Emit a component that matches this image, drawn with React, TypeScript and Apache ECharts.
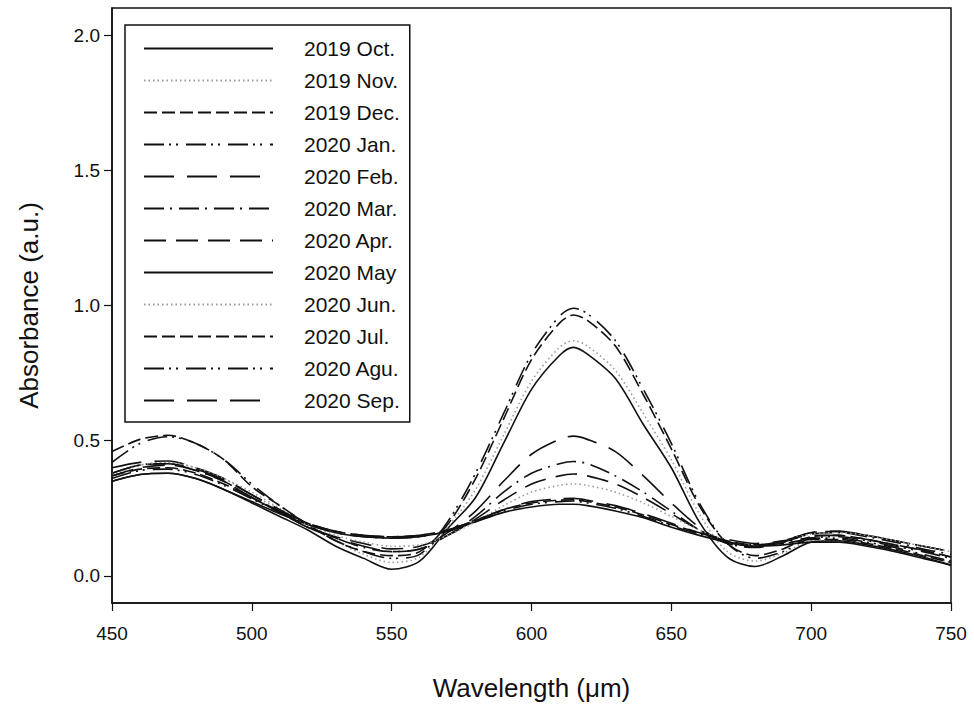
import React, { useEffect, useRef } from "react";
import * as echarts from "echarts";

const wavelengths = [450,460,470,480,490,500,510,520,530,540,550,560,570,580,590,600,610,615,620,630,640,650,660,670,680,690,700,710,720,730,740,750];

const oct2019 = [0.35,0.375,0.38,0.36,0.32,0.27,0.22,0.17,0.11,0.065,0.025,0.055,0.175,0.29,0.49,0.69,0.815,0.845,0.82,0.73,0.56,0.40,0.20,0.07,0.035,0.075,0.125,0.13,0.115,0.095,0.07,0.04];
const nov2019 = [0.37,0.41,0.42,0.40,0.36,0.31,0.25,0.19,0.13,0.08,0.05,0.07,0.18,0.32,0.52,0.72,0.845,0.87,0.85,0.76,0.60,0.43,0.23,0.09,0.055,0.085,0.13,0.135,0.12,0.10,0.075,0.05];
const dec2019 = [0.46,0.505,0.52,0.49,0.43,0.33,0.26,0.19,0.13,0.09,0.075,0.09,0.19,0.36,0.58,0.80,0.935,0.965,0.945,0.85,0.67,0.47,0.26,0.12,0.075,0.10,0.145,0.15,0.135,0.115,0.095,0.07];
const jan2020 = [0.42,0.49,0.515,0.49,0.43,0.34,0.26,0.19,0.13,0.09,0.065,0.08,0.20,0.38,0.60,0.82,0.96,0.99,0.97,0.87,0.69,0.49,0.27,0.12,0.065,0.09,0.14,0.145,0.13,0.11,0.09,0.065];
const feb2020 = [0.40,0.42,0.425,0.40,0.36,0.30,0.24,0.185,0.14,0.11,0.09,0.10,0.16,0.24,0.35,0.45,0.505,0.517,0.505,0.46,0.37,0.27,0.18,0.12,0.11,0.13,0.16,0.165,0.15,0.13,0.11,0.09];
const mar2020 = [0.38,0.41,0.415,0.39,0.35,0.29,0.235,0.18,0.14,0.105,0.09,0.10,0.15,0.22,0.31,0.38,0.415,0.423,0.415,0.37,0.31,0.24,0.17,0.12,0.105,0.125,0.155,0.16,0.145,0.125,0.10,0.08];
const apr2020 = [0.37,0.40,0.41,0.39,0.35,0.29,0.235,0.18,0.145,0.12,0.10,0.11,0.15,0.21,0.28,0.34,0.37,0.377,0.37,0.34,0.29,0.23,0.17,0.125,0.11,0.13,0.16,0.165,0.15,0.13,0.11,0.09];
const may2020 = [0.35,0.375,0.38,0.36,0.32,0.275,0.23,0.19,0.16,0.145,0.14,0.145,0.165,0.20,0.235,0.255,0.265,0.265,0.26,0.24,0.215,0.18,0.15,0.125,0.11,0.115,0.125,0.125,0.11,0.09,0.065,0.04];
const jun2020 = [0.38,0.41,0.42,0.40,0.36,0.30,0.245,0.19,0.15,0.125,0.11,0.115,0.15,0.20,0.26,0.31,0.335,0.34,0.335,0.31,0.27,0.22,0.17,0.13,0.115,0.13,0.155,0.16,0.15,0.13,0.11,0.09];
const jul2020 = [0.37,0.395,0.40,0.38,0.34,0.29,0.24,0.195,0.165,0.15,0.145,0.15,0.17,0.205,0.245,0.27,0.28,0.282,0.275,0.255,0.225,0.19,0.16,0.13,0.115,0.12,0.135,0.135,0.12,0.10,0.075,0.05];
const aug2020 = [0.36,0.39,0.395,0.375,0.335,0.285,0.235,0.19,0.16,0.145,0.14,0.145,0.165,0.20,0.24,0.265,0.275,0.277,0.27,0.25,0.22,0.185,0.155,0.125,0.115,0.125,0.14,0.14,0.125,0.105,0.08,0.055];
const sep2020 = [0.38,0.41,0.415,0.395,0.355,0.30,0.245,0.195,0.165,0.15,0.145,0.15,0.17,0.205,0.245,0.275,0.285,0.287,0.28,0.26,0.23,0.195,0.16,0.135,0.12,0.13,0.15,0.15,0.135,0.115,0.095,0.07];

const seriesNames = ["2019 Oct.","2019 Nov.","2019 Dec.","2020 Jan.","2020 Feb.","2020 Mar.","2020 Apr.","2020 May","2020 Jun.","2020 Jul.","2020 Agu.","2020 Sep."];
const seriesData = [oct2019,nov2019,dec2019,jan2020,feb2020,mar2020,apr2020,may2020,jun2020,jul2020,aug2020,sep2020];
const yTicks = [0, 0.5, 1.0, 1.5, 2.0];

const dashStyles: any[] = [
  { type: "solid", color: "#111" },
  { type: [1.5, 3], color: "#9a9a9a" },
  { type: [13, 5], color: "#111" },
  { type: [20, 5, 2, 5, 2, 8], color: "#111" },
  { type: [30, 13], color: "#111" },
  { type: [20, 6, 2, 7], color: "#111" },
  { type: [22, 10], color: "#111" },
];
const styleIndex = [0,1,2,3,4,5,6,0,1,2,3,4];

export default function App() {
  const ref = useRef<HTMLDivElement>(null);
  useEffect(() => {
    if (!ref.current) return;
    const chart = echarts.init(ref.current, null, { renderer: "svg" });
    const font = "'Liberation Sans', Arial, sans-serif";
    const series = seriesNames.map((name, i) => {
      const st = dashStyles[styleIndex[i]];
      return {
        name,
        type: "line",
        data: wavelengths.map((w, k) => [w, seriesData[i][k]]),
        smooth: 0.3,
        symbol: "none",
        lineStyle: { width: 1.6, color: st.color, type: st.type },
        itemStyle: { color: st.color },
        z: 2,
      };
    });
    chart.setOption({
      animation: false,
      backgroundColor: "#fff",
      textStyle: { fontFamily: font },
      grid: {
        left: 112, right: 23, top: 8, bottom: 102,
        outerBoundsMode: "none",
        containLabel: false,
        show: true, borderColor: "#111", borderWidth: 1.5,
      },
      legend: {
        orient: "vertical",
        left: 125, top: 25,
        padding: [13, 10, 11, 18],
        borderColor: "#111", borderWidth: 1.5,
        backgroundColor: "#fff",
        itemWidth: 129, itemHeight: 20, itemGap: 11,
        itemStyle: { opacity: 0 },
        textStyle: { fontSize: 21, color: "#111", fontFamily: font, padding: [0, 0, 0, 26] },
        data: seriesNames,
      },
      xAxis: {
        type: "value", min: 450, max: 750, interval: 50,
        name: "Wavelength (\u03bcm)", nameLocation: "middle", nameGap: 72,
        nameTextStyle: { fontSize: 26, color: "#111", fontFamily: font },
        axisLine: { onZero: false, lineStyle: { color: "#111", width: 1.5 } },
        axisTick: { show: true, length: 8, inside: false, lineStyle: { color: "#111", width: 1.2 } },
        axisLabel: { fontSize: 19, color: "#111", margin: 21 },
        splitLine: { show: false },
      },
      yAxis: {
        type: "value", min: -0.1, max: 2.1,
        name: "Absorbance (a.u.)", nameLocation: "middle", nameGap: 70,
        nameTextStyle: { fontSize: 26, color: "#111", fontFamily: font },
        axisLine: { show: true, onZero: false, lineStyle: { color: "#111", width: 1.5 } },
        axisTick: { show: true, length: 8, inside: false, customValues: yTicks, lineStyle: { color: "#111", width: 1.2 } },
        axisLabel: { fontSize: 19, color: "#111", margin: 12, customValues: yTicks, formatter: (v: number) => v.toFixed(1) },
        splitLine: { show: false },
      },
      series,
    });
    return () => chart.dispose();
  }, []);
  return <div ref={ref} style={{ position: "fixed", left: 0, top: 0, width: 974, height: 705, background: "#fff" }} />;
}
